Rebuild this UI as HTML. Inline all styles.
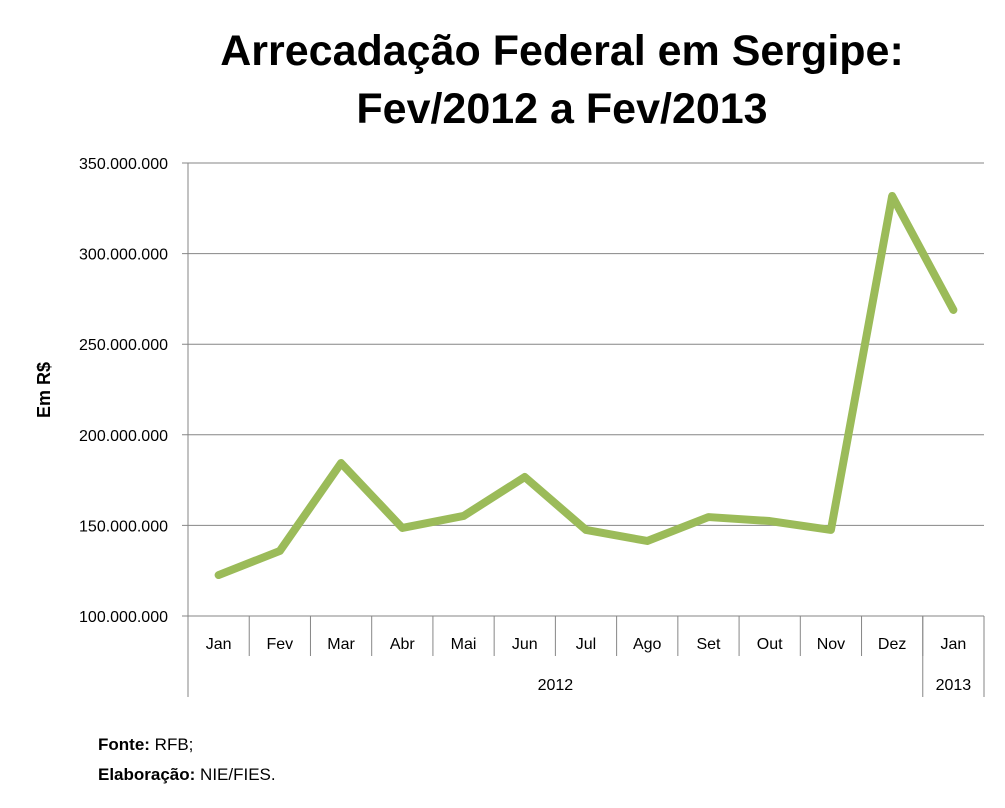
<!DOCTYPE html>
<html><head><meta charset="utf-8"><style>
body{margin:0;background:#fff;width:1005px;height:803px;overflow:hidden;font-family:"Liberation Sans",sans-serif}
</style></head><body>
<svg width="1005" height="803">
<text x="562" y="65" text-anchor="middle" font-size="43" font-weight="bold">Arrecadação Federal em Sergipe:</text>
<text x="562" y="123" text-anchor="middle" font-size="43" font-weight="bold">Fev/2012 a Fev/2013</text>
<text transform="translate(50,390) rotate(-90)" text-anchor="middle" font-size="18" font-weight="bold">Em R$</text>
<g id="grid"></g><g id="xaxis"></g>
<polyline id="line" fill="none" stroke="#9bbb59" stroke-width="8" stroke-linejoin="round" stroke-linecap="round"/>
<text x="98" y="750" font-size="17"><tspan font-weight="bold">Fonte:</tspan> RFB;</text>
<text x="98" y="780" font-size="17"><tspan font-weight="bold">Elaboração:</tspan>  NIE/FIES.</text>
</svg>
<script>
const categories=["Jan","Fev","Mar","Abr","Mai","Jun","Jul","Ago","Set","Out","Nov","Dez","Jan"];
const values=[122.6,135.9,184.4,148.6,155.2,176.7,147.5,141.4,154.6,152.4,147.5,331.8,268.9];
const yTicks=[100,150,200,250,300,350];
const yTickLabels=["100.000.000","150.000.000","200.000.000","250.000.000","300.000.000","350.000.000"];
const years=[{label:"2012",n:12},{label:"2013",n:1}];
const L=188,R=984,T=163,B=616,NS="http://www.w3.org/2000/svg";
const cw=(R-L)/categories.length;
const y=v=>B-(v-100)/250*(B-T);
const x=i=>L+cw*(i+0.5);
function mk(t,a,p){const e=document.createElementNS(NS,t);for(const k in a)e.setAttribute(k,a[k]);p.appendChild(e);return e;}
const g=document.getElementById('grid'),xa=document.getElementById('xaxis');
yTicks.forEach((v,i)=>{
 const l=mk('line',{x1:L-6,x2:R,y1:y(v),y2:y(v),stroke:i==0?'#868686':'#868686','stroke-width':1},g);
 
 
 const t=mk('text',{x:L-20,y:y(v)+6,'text-anchor':'end','font-size':16},g);t.textContent=yTickLabels[i];
 
 
});
const ax=mk('line',{x1:L,x2:L,y1:T,y2:697,stroke:'#868686'},g);


categories.forEach((c,i)=>{
 const d=mk('line',{x1:L+cw*(i+1),x2:L+cw*(i+1),y1:B,y2:656,stroke:'#868686'},xa);
 
 
 const t=mk('text',{x:x(i),y:649,'text-anchor':'middle','font-size':16},xa);t.textContent=c;
 
 
});
let s=0;
years.forEach(yr=>{
 const e=s+yr.n;
 const d=mk('line',{x1:L+cw*e,x2:L+cw*e,y1:B,y2:697,stroke:'#868686'},xa);
 
 
 const t=mk('text',{x:L+cw*(s+e)/2,y:690,'text-anchor':'middle','font-size':16},xa);t.textContent=yr.label;
 
 
 s=e;
});
document.getElementById('line').setAttribute('points',values.map((v,i)=>x(i)+','+y(v)).join(' '));
</script>
</body></html>
